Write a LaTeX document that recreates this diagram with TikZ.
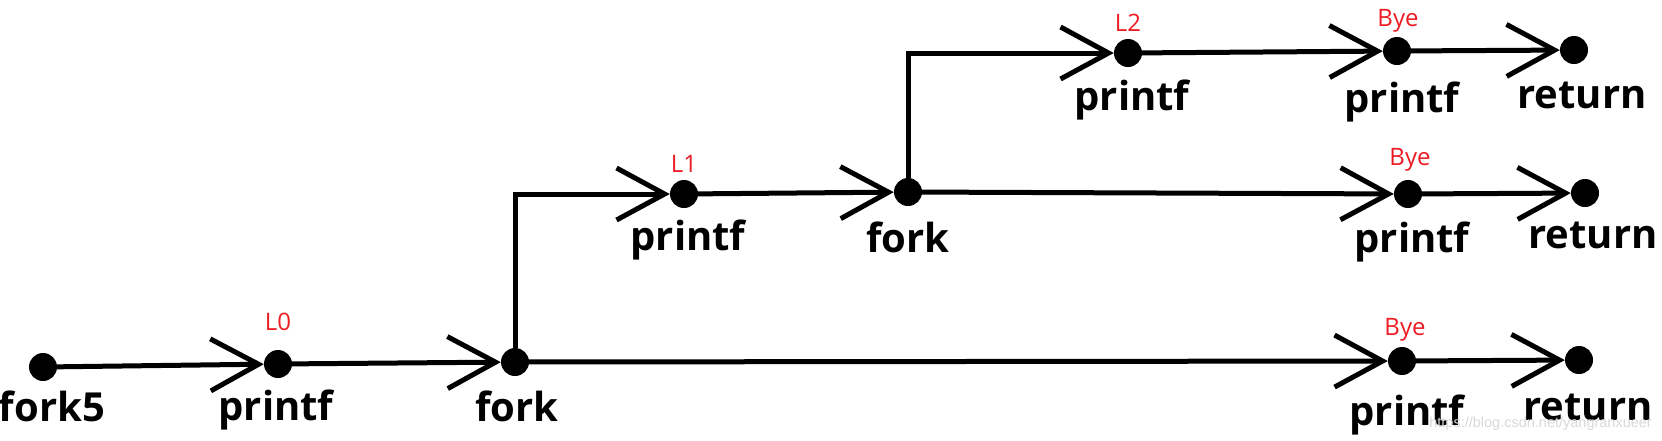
\documentclass[tikz,border=0pt]{standalone}
\usepackage{fontspec}
\setmainfont{Open Sans}
\newfontfamily\wmfont{Liberation Sans}
\usetikzlibrary{arrows.meta}
\definecolor{lblred}{RGB}{237,28,36}
\begin{document}
\begin{tikzpicture}[x=1pt,y=-1pt,
  dot/.style={circle,fill=black,inner sep=0pt,minimum size=28pt},
  flow/.style={line width=5pt,-{Straight Barb[length=48pt,width=52pt]}},
  lbl/.style={anchor=base,font=\fontsize{40}{40}\selectfont\bfseries,inner sep=0pt},
  tag/.style={anchor=base,font=\fontsize{24}{24}\selectfont,text=lblred,inner sep=0pt}]
\useasboundingbox[fill=white] (0,0) rectangle (1662,440);
% dots
\node[dot] (f5) at (43,367) {};
\node[dot] (p0) at (278,364) {};
\node[dot] (k1) at (515,362) {};
\node[dot] (b3) at (1402,361) {};
\node[dot] (r3) at (1579,360) {};
\node[dot] (p1) at (684,194) {};
\node[dot] (k2) at (908,192) {};
\node[dot] (b2) at (1408,194) {};
\node[dot] (r2) at (1585,193) {};
\node[dot] (p2) at (1128,53) {};
\node[dot] (b1) at (1397,51) {};
\node[dot] (r1) at (1574,50) {};
% connectors
\draw[flow] (f5) -- (p0);
\draw[flow] (p0) -- (k1);
\draw[flow] (k1) -- (b3);
\draw[flow] (b3) -- (r3);
\draw[flow] (k1) |- (p1);
\draw[flow] (p1) -- (k2);
\draw[flow] (k2) -- (b2);
\draw[flow] (b2) -- (r2);
\draw[flow] (k2) |- (p2);
\draw[flow] (p2) -- (b1);
\draw[flow] (b1) -- (r1);
% labels
\node[lbl] (tf5) at (52,421) {fork5};
\node[lbl] (tp0) at (276,420) {printf};
\node[lbl] (tk1) at (517,421) {fork};
\node[lbl] (tb3) at (1407,425) {printf};
\node[lbl] (tr3) at (1588,420) {return};
\node[lbl] (tp1) at (688,250) {printf};
\node[lbl] (tk2) at (908,252) {fork};
\node[lbl] (tb2) at (1412,252) {printf};
\node[lbl] (tr2) at (1593,248) {return};
\node[lbl] (tp2) at (1132,110) {printf};
\node[lbl] (tb1) at (1402,112) {printf};
\node[lbl] (tr1) at (1582,108) {return};
\node[tag] (l0) at (278,330) {L0};
\node[tag] (l1) at (684,172) {L1};
\node[tag] (l2) at (1128,31) {L2};
\node[tag] (y1) at (1398,26) {Bye};
\node[tag] (y2) at (1410,165) {Bye};
\node[tag] (y3) at (1405,335) {Bye};
\node[anchor=base east,inner sep=0pt,text=black!15,font=\wmfont\fontsize{14.5}{14.5}\selectfont] (wm) at (1652,427) {https://blog.csdn.net/yangranxueer};
\end{tikzpicture}
\end{document}
